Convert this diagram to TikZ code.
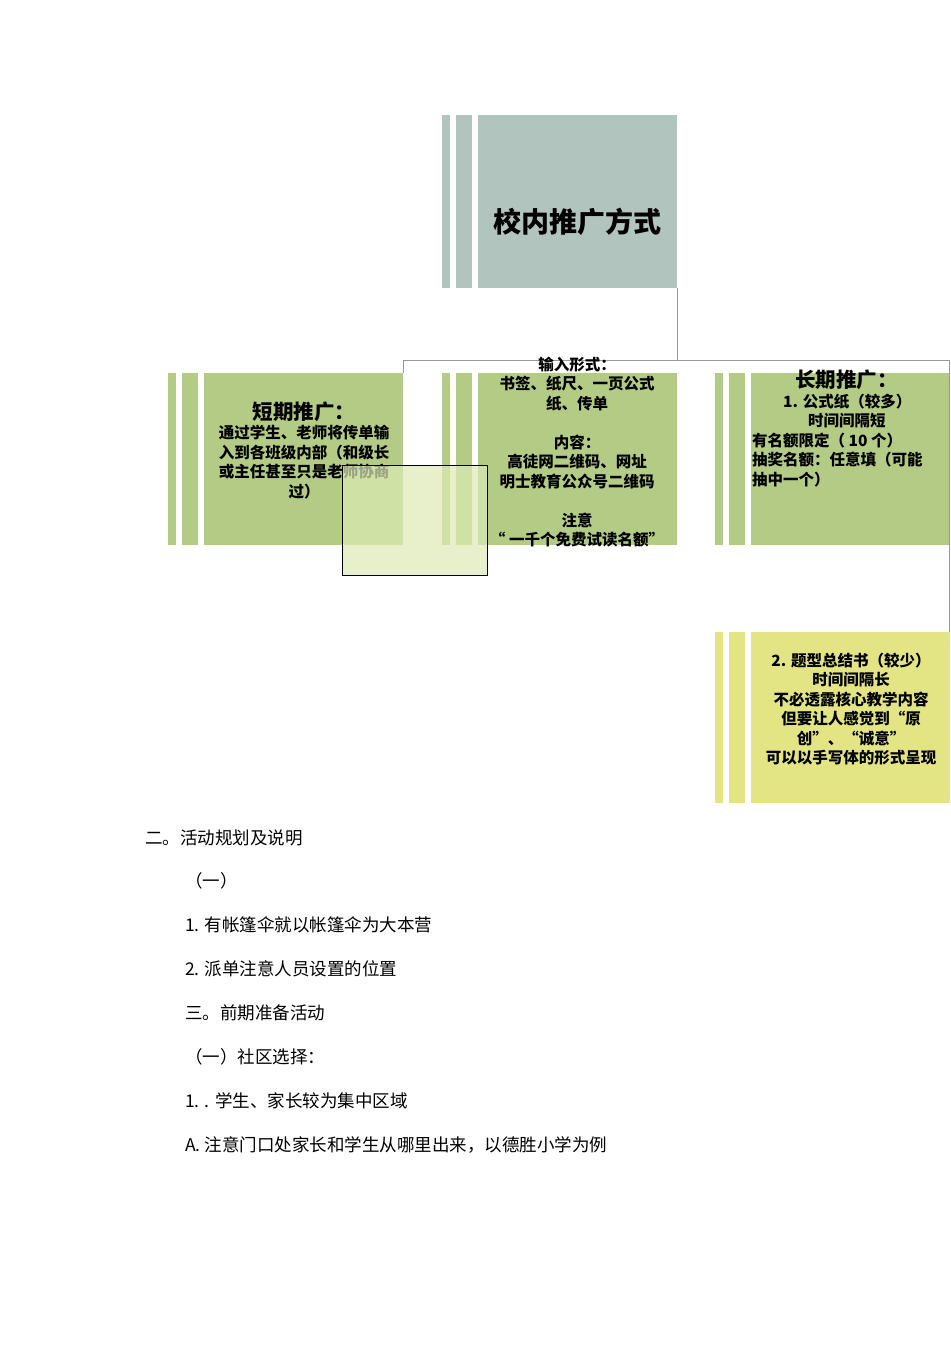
\documentclass[tikz,border=0pt]{standalone}
\usepackage{fontspec}
\setmainfont{Liberation Serif}
\newfontfamily\cjk{Noto Sans CJK SC}
\definecolor{topc}{HTML}{B1C4BD}
\definecolor{grn}{HTML}{B3CB85}
\definecolor{yel}{HTML}{E3E584}
\definecolor{ovl}{HTML}{DDEBB5}
\tikzset{x=1pt,y=-1pt,
 conn/.style={draw=gray!80,line width=0.8pt},
 txt/.style={align=center,font=\cjk\bfseries\fontsize{15.5}{19.5}\selectfont,inner sep=0},
 body/.style={anchor=west,font=\cjk\fontsize{17.5}{20}\selectfont,inner sep=0}}
\newcommand{\blk}[5]{% x0 y0 y1 color name
 \fill[#4] (#1,#2) rectangle ++(8,#3-#2);
 \fill[#4] (#1+14,#2) rectangle ++(16,#3-#2);
 \fill[#4] (#1+36,#2) rectangle ++(199,#3-#2);
 \coordinate (#5) at (#1+135,#2);}
\begin{document}
\begin{tikzpicture}
\useasboundingbox (0,0) rectangle (950,1346);
\fill[white] (0,0) rectangle (950,1346);
\blk{442}{115}{288}{topc}{tb}
\blk{168}{373}{545}{grn}{lb}
\blk{442}{373}{545}{grn}{mb}
\blk{715}{373}{545}{grn}{rb}
\blk{715}{632}{803}{yel}{yb}
\coordinate (c0) at (677,288);
\coordinate (c1) at (677,360);
\coordinate (cl) at (403,360);
\coordinate (cr) at (949,360);
\draw[conn] (c0) -- (c1);
\draw[conn] (cl) -- ++(0,13);
\draw[conn] (cl) -- (cr) -- (949,632);
\node[txt,font=\cjk\bfseries\fontsize{28}{32}\selectfont] (t0) at (577,222) {校内推广方式};
\node[txt] (t1) at (304,450) {{\fontsize{20.5}{23}\selectfont 短期推广：}\\通过学生、老师将传单输\\入到各班级内部（和级长\\或主任甚至只是老师协商\\过）};
\node[txt] (t2) at (577,452) {输入形式：\\书签、纸尺、一页公式\\纸、传单\\[19.5pt]内容：\\高徒网二维码、网址\\明士教育公众号二维码\\[19.5pt]注意\\“ 一千个免费试读名额”};
\node[txt,anchor=north west,align=left] (t3) at (752,370) {\hspace*{43pt}{\fontsize{20.5}{23}\selectfont 长期推广：}\\\hspace*{31pt}1. 公式纸（较多）\\\hspace*{56pt}时间间隔短\\有名额限定（ 10 个）\\抽奖名额：任意填（可能\\抽中一个）};
\node[txt] (t4) at (851,709) {2. 题型总结书（较少）\\时间间隔长\\不必透露核心教学内容\\但要让人感觉到“原\\创”、“诚意”\\可以以手写体的形式呈现};
\fill[ovl,opacity=0.7] (342,465) rectangle (487,575);
\draw[black,line width=0.8pt] (342,465) rectangle (487,575);
\node[body] (b1) at (145,838) {二。活动规划及说明};
\node[body] (b2) at (185,881) {（一）};
\node[body] (b3) at (185,925) {1. 有帐篷伞就以帐篷伞为大本营};
\node[body] (b4) at (185,969) {2. 派单注意人员设置的位置};
\node[body] (b5) at (185,1013) {三。前期准备活动};
\node[body] (b6) at (185,1057) {（一）社区选择：};
\node[body] (b7) at (185,1101) {1. . 学生、家长较为集中区域};
\node[body] (b8) at (185,1145) {A. 注意门口处家长和学生从哪里出来，以德胜小学为例};
\end{tikzpicture}
\end{document}
